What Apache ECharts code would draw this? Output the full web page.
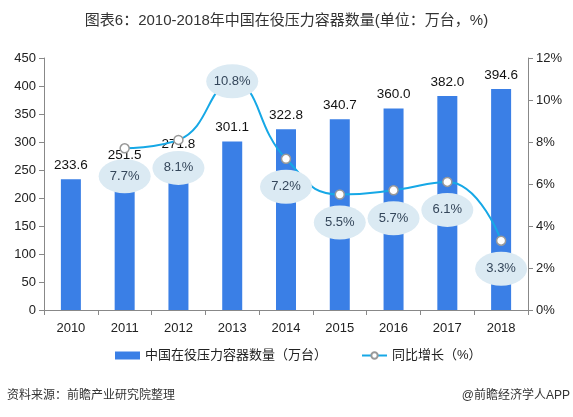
<!DOCTYPE html>
<html><head><meta charset="utf-8">
<script src="https://cdn.jsdelivr.net/npm/echarts@6/dist/echarts.min.js"></script>
<style>html,body{margin:0;padding:0;background:#fff}#c{width:573px;height:417px}</style>
</head><body><div id="c"></div>
<script>
const years = ['2010','2011','2012','2013','2014','2015','2016','2017','2018'];
const vessels = [233.6, 251.5, 271.8, 301.1, 322.8, 340.7, 360.0, 382.0, 394.6];
const growth = [null, 7.7, 8.1, 10.8, 7.2, 5.5, 5.7, 6.1, 3.3];
const bubbleAbove = [false, false, false, true, false, false, false, false, false];

const FF = "Arial, 'Liberation Sans', 'Noto Sans CJK SC', sans-serif";
const chart = echarts.init(document.getElementById('c'));
const bubbles = growth.map((g, i) => g == null ? null : {
  value: g,
  symbolOffset: bubbleAbove[i] ? [0, -2] : [0, 28]
});
chart.setOption({
  animation: false,
  textStyle: {fontFamily: FF},
  title: {
    text: '图表6：2010-2018年中国在役压力容器数量(单位：万台，%)',
    left: 'center', top: 8,
    textStyle: {fontSize: 15, fontWeight: 'normal', color: '#333', fontFamily: FF}
  },
  legend: {
    left: 110, top: 344, itemGap: 34,
    itemWidth: 25, itemHeight: 8,
    textStyle: {fontSize: 13, color: '#222', fontFamily: FF},
    data: [{name: '中国在役压力容器数量（万台）', icon: 'rect'}, {name: '同比增长（%）'}]
  },
  grid: {left: 44, right: 45, top: 58, bottom: 107},
  xAxis: {
    type: 'category', data: years,
    axisLine: {lineStyle: {color: '#888'}},
    axisTick: {show: true, lineStyle: {color: '#888'}},
    axisLabel: {fontSize: 13, color: '#222', margin: 12, fontFamily: FF}
  },
  yAxis: [
    {type: 'value', min: 0, max: 450, interval: 50,
     axisLine: {show: true, lineStyle: {color: '#888'}},
     axisTick: {show: true, lineStyle: {color: '#888'}},
     splitLine: {show: false},
     axisLabel: {fontSize: 13, color: '#222', fontFamily: FF}},
    {type: 'value', min: 0, max: 12, interval: 2,
     axisLine: {show: true, lineStyle: {color: '#888'}},
     axisTick: {show: true, lineStyle: {color: '#888'}},
     splitLine: {show: false},
     axisLabel: {fontSize: 13, color: '#222', formatter: '{value}%', fontFamily: FF}}
  ],
  series: [
    {name: '中国在役压力容器数量（万台）', type: 'bar', data: vessels, barWidth: 20,
     itemStyle: {color: '#3a7fe6'},
     label: {show: true, position: 'top', fontSize: 13.5, color: '#111', distance: 7,
             formatter: p => p.value.toFixed(1), fontFamily: FF},
     z: 2},
    {name: '同比增长（%）', type: 'line', yAxisIndex: 1, data: growth, smooth: true,
     symbol: 'circle', symbolSize: 9,
     lineStyle: {color: '#16a8e6', width: 2},
     itemStyle: {color: '#fff', borderColor: '#999', borderWidth: 1.5},
     z: 3},
    {name: 'bubbles', type: 'scatter', yAxisIndex: 1, data: bubbles,
     symbol: 'circle', symbolSize: [52, 34],
     itemStyle: {color: '#dbeaf3', opacity: 1},
     label: {show: true, position: 'inside', formatter: p => p.value + '%',
             fontSize: 13, color: '#34465a', fontFamily: FF},
     z: 5}
  ],
  graphic: [
    {type: 'text', left: 7, top: 390, style: {text: '资料来源：前瞻产业研究院整理', fontSize: 12, fill: '#333', fontFamily: FF}},
    {type: 'text', right: 3, top: 390, style: {text: '@前瞻经济学人APP', fontSize: 12, fill: '#333', fontFamily: FF}}
  ]
});
</script></body></html>
